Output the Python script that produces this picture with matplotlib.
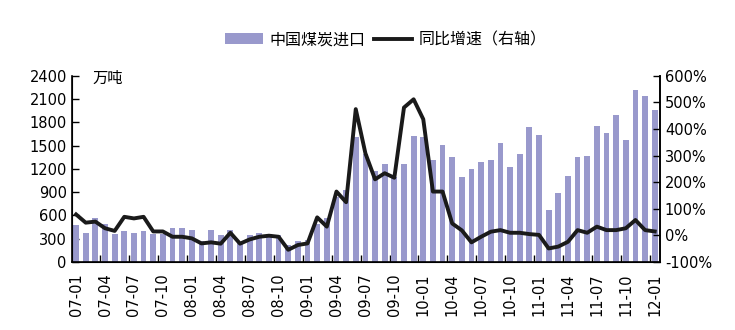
import numpy as np
import matplotlib.pyplot as plt
from matplotlib.ticker import FuncFormatter

# monthly coal imports (10k tons) and yoy growth (%), 2007-01 .. 2012-01
months = [f"{y:02d}-{m:02d}" for y in range(7, 13) for m in range(1, 13)][:61]

imports = [481, 374, 567, 490, 365, 400, 374, 400, 365, 365, 439, 439,
           413, 271, 413, 352, 413, 241, 352, 374, 365, 350, 221, 271,
           284, 490, 563, 843, 929, 1617, 1393, 1174, 1264, 1092, 1264, 1625,
           1612, 1316, 1509, 1354, 1096, 1200, 1290, 1316, 1535, 1226, 1393, 1741,
           1638, 671, 890, 1109, 1354, 1367, 1754, 1664, 1896, 1574, 2219, 2141,
           1961]

yoy = [79, 48, 52, 27, 17, 70, 64, 70, 15, 15, -5, -5,
       -11, -30, -26, -31, 10, -31, -15, -5, -1, -5, -54, -36,
       -30, 68, 33, 165, 125, 475, 309, 211, 234, 217, 481, 512,
       437, 165, 165, 45, 19, -26, -5, 14, 20, 10, 10, 5,
       2, -49, -42, -24, 20, 10, 33, 20, 20, 27, 58, 20,
       15]

bar_color = '#9999cc'
cjk = ['Noto Sans CJK SC', 'DejaVu Sans']

plt.rcParams['font.family'] = 'DejaVu Sans'
plt.rcParams['font.size'] = 10.5

fig = plt.figure(figsize=(7.35, 3.3), dpi=100)
ax = fig.add_axes([0.0976, 0.206, 0.8004, 0.564])
x = np.arange(len(months))

bars = ax.bar(x, imports, width=0.6, color=bar_color, label='中国煤炭进口', zorder=2)
ax.set_xlim(-0.45, 60.55)
ax.set_ylim(0, 2400)
ax.set_yticks(np.arange(0, 2401, 300))
ax.set_xticks(x[::3])
ax.set_xticklabels(months[::3], rotation=90)
ax.set_xticks(np.arange(2.5, 60, 3), minor=True)
ax.tick_params(axis='x', which='major', length=0, pad=8)
ax.tick_params(axis='x', which='minor', direction='in', length=5, width=1)
ax.tick_params(axis='y', direction='in', length=5, width=1)
ax.spines['top'].set_visible(False)
for s in ['left', 'bottom', 'right']:
    ax.spines[s].set_linewidth(1.2)
ax.text(0.035, 0.985, '万吨', transform=ax.transAxes, family=cjk, fontsize=11,
        va='center', ha='left')

ax2 = ax.twinx()
line, = ax2.plot(x, yoy, color='#1a1a1a', lw=2.8, label='同比增速（右轴）', zorder=3)
ax2.set_ylim(-100, 600)
ax2.set_yticks(np.arange(-100, 601, 100))
ax2.yaxis.set_major_formatter(FuncFormatter(lambda v, p: f"{int(v)}%"))
ax2.tick_params(axis='y', direction='in', length=5, width=1)
ax2.spines['top'].set_visible(False)
ax2.spines['right'].set_linewidth(1.2)

leg = fig.legend([bars, line], ['中国煤炭进口', '同比增速（右轴）'], loc='center',
                 bbox_to_anchor=(0.525, 0.88), ncol=2, frameon=False,
                 prop={'family': cjk, 'size': 11.5}, handlelength=2.4,
                 handleheight=0.6, columnspacing=0.5, handletextpad=0.4)

fig.savefig('out.png', dpi=100)
